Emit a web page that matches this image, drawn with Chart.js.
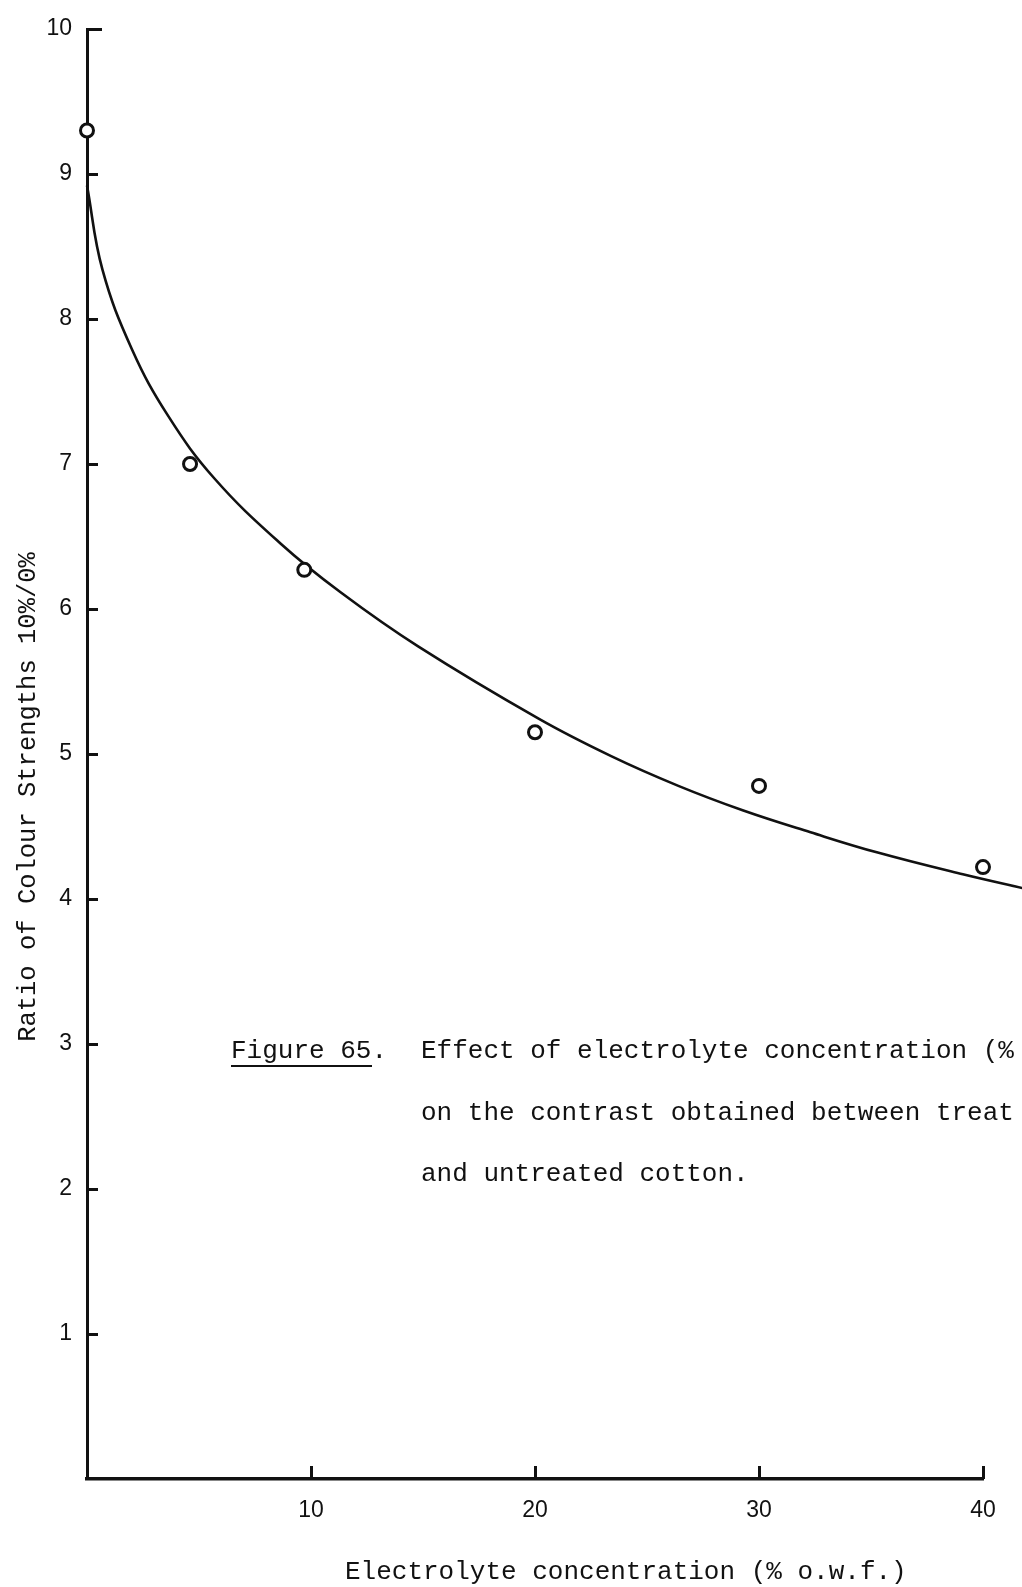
<!DOCTYPE html>
<html>
<head>
<meta charset="utf-8">
<script src="https://cdn.jsdelivr.net/npm/chart.js@4/dist/chart.umd.min.js"></script>
<style>
  html, body { margin: 0; padding: 0; background: #ffffff; }
  #wrap { position: relative; width: 1022px; height: 1587px; }
  canvas { display: block; }
</style>
</head>
<body>
<div id="wrap"><canvas id="c" width="1022" height="1587"></canvas></div>
<script>
// ---- data ----
const pointX = [0, 4.6, 9.7, 20, 30, 40];
const pointY = [9.3, 7.0, 6.27, 5.15, 4.78, 4.22];

const curveX = [0, 0.69, 2.01, 3.63, 5.69, 8.65, 11.32, 14.8, 20.2, 23.4, 26.4, 29.3, 32.3, 35.3, 39.1, 41.9];
const curveY = [8.92, 8.34, 7.79, 7.33, 6.90, 6.45, 6.115, 5.74, 5.24, 4.985, 4.78, 4.61, 4.46, 4.32, 4.17, 4.07];

const xTickValues = [10, 20, 30, 40];
const yTickValues = [1, 2, 3, 4, 5, 6, 7, 8, 9, 10];

const yTitle = 'Ratio of Colour Strengths 10%/0%';
const xTitle = 'Electrolyte concentration (% o.w.f.)';
const captionLabel = 'Figure 65.';
const captionLines = [
  'Effect of electrolyte concentration (%',
  'on the contrast obtained between treat',
  'and untreated cotton.'
];

const INK = '#111111';

// ---- plugin: inward tick marks ----
const insideTicks = {
  id: 'insideTicks',
  beforeDatasetsDraw(chart) {
    const { ctx, scales: { x, y } } = chart;
    const x0 = x.getPixelForValue(0);
    const y0 = y.getPixelForValue(0);
    ctx.save();
    ctx.strokeStyle = INK;
    ctx.lineWidth = 3;
    ctx.lineCap = 'butt';
    yTickValues.forEach(v => {
      const py = Math.round(y.getPixelForValue(v)) + 0.5;
      const len = v === 10 ? 15 : 11;
      ctx.beginPath();
      ctx.moveTo(x0, py);
      ctx.lineTo(x0 + len, py);
      ctx.stroke();
    });
    xTickValues.forEach(v => {
      const px = Math.round(x.getPixelForValue(v)) + 0.5;
      ctx.beginPath();
      ctx.moveTo(px, y0);
      ctx.lineTo(px, y0 - 13);
      ctx.stroke();
    });
    ctx.restore();
  }
};

// ---- plugin: axis titles and figure caption ----
const texts = {
  id: 'texts',
  afterDraw(chart) {
    const { ctx } = chart;
    ctx.save();
    ctx.fillStyle = INK;
    ctx.textBaseline = 'alphabetic';

    // y title (rotated)
    ctx.save();
    ctx.font = '25.5px "Liberation Mono"';
    ctx.translate(35, 797);
    ctx.rotate(-Math.PI / 2);
    ctx.textAlign = 'center';
    ctx.fillText(yTitle, 0, 0);
    ctx.restore();

    // x title
    ctx.font = '26px "Liberation Mono"';
    ctx.textAlign = 'left';
    ctx.fillText(xTitle, 345, 1579);

    // caption
    ctx.fillText(captionLabel, 231, 1058);
    ctx.strokeStyle = INK;
    ctx.lineWidth = 2;
    ctx.beginPath();
    ctx.moveTo(231, 1066);
    ctx.lineTo(372, 1066);
    ctx.stroke();
    const baselines = [1058, 1120, 1181];
    captionLines.forEach((t, i) => ctx.fillText(t, 421, baselines[i]));
    ctx.restore();
  }
};

const tickFont = { family: '"Liberation Sans", Arial, sans-serif', size: 23 };

new Chart(document.getElementById('c'), {
  type: 'scatter',
  data: {
    datasets: [
      {
        label: 'points',
        data: pointX.map((x, i) => ({ x, y: pointY[i] })),
        showLine: false,
        pointRadius: 6.5,
        pointBorderWidth: 3,
        pointBackgroundColor: '#ffffff',
        pointBorderColor: INK,
        clip: false,
        order: 0
      },
      {
        label: 'curve',
        data: curveX.map((x, i) => ({ x, y: curveY[i] })),
        showLine: true,
        pointRadius: 0,
        borderColor: INK,
        borderWidth: 2.6,
        tension: 0.4,
        clip: false,
        order: 1
      }
    ]
  },
  options: {
    responsive: false,
    devicePixelRatio: 1,
    animation: false,
    events: [],
    layout: { padding: { top: 29, right: 39, left: 0, bottom: 0 } },
    plugins: { legend: { display: false }, tooltip: { enabled: false } },
    scales: {
      x: {
        type: 'linear',
        position: 'bottom',
        min: 0,
        max: 40,
        afterBuildTicks: s => { s.ticks = xTickValues.map(v => ({ value: v })); },
        afterFit: s => { s.height = 108; },
        grid: { display: false, drawTicks: false },
        border: { display: true, color: INK, width: 3.5 },
        ticks: { padding: 18, font: tickFont, color: INK, maxRotation: 0, autoSkip: false }
      },
      y: {
        type: 'linear',
        position: 'left',
        min: 0,
        max: 10,
        afterBuildTicks: s => { s.ticks = yTickValues.map(v => ({ value: v })); },
        afterFit: s => { s.width = 87; },
        grid: { display: false, drawTicks: false },
        border: { display: true, color: INK, width: 3 },
        ticks: { padding: 15, font: tickFont, color: INK, autoSkip: false }
      }
    }
  },
  plugins: [insideTicks, texts]
});
</script>
</body>
</html>
